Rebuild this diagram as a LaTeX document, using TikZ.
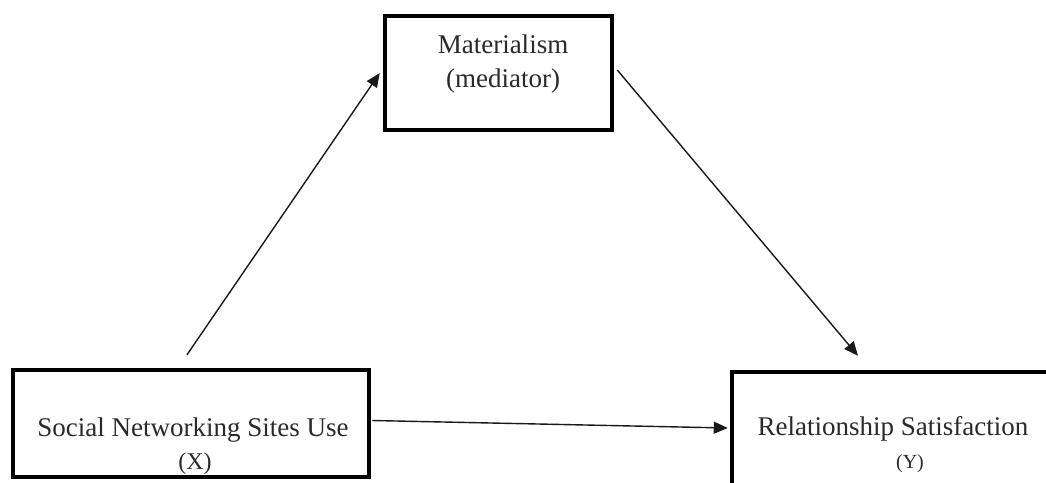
\documentclass[tikz,border=0pt]{standalone}
\usepackage{fontspec}
\setmainfont{Liberation Serif}
\usetikzlibrary{arrows.meta}
\definecolor{txt}{HTML}{2A2A2A}
\begin{document}
\begin{tikzpicture}[x=1pt,y=-1pt,
  box/.style={draw=black,line width=4.5pt,inner sep=0pt,fill=white},
  lbl/.style={anchor=base,inner sep=0pt,text=txt,font=\fontsize{27}{30}\selectfont},
  arr/.style={draw=black!90,line width=1.4pt,-{Triangle[length=14pt,width=12pt]}}]
\useasboundingbox (0,0) rectangle (1046,482);
\fill[white] (0,0) rectangle (1046,482);
% boxes
\node[box,minimum width=227pt,minimum height=114pt] (mat) at (498.5,73) {};
\node[box,minimum width=356pt,minimum height=107pt] (sns) at (191,423.5) {};
\node[box,minimum width=330pt,minimum height=140pt] (rs) at (897,442) {};
% texts
\node[lbl] (matA) at (503,53) {Materialism};
\node[lbl] (matB) at (503,87) {(mediator)};
\node[lbl] (snsA) at (193,436) {Social Networking Sites Use};
\node[lbl,font=\fontsize{24}{28}\selectfont] (snsB) at (195,469) {(X)};
\node[lbl] (rsA) at (893,435) {Relationship Satisfaction};
\node[lbl,font=\fontsize{20}{24}\selectfont] (rsB) at (910,468) {(Y)};
% connectors
\draw[arr] ([shift={(-4,-13)}]sns.north) -- ([shift={(-3,0)}]mat.west);
\draw[arr] ([shift={(3,-3)}]mat.east) -- ([shift={(-39,-14)}]rs.north);
\draw[arr] ([shift={(1,-3)}]sns.east) -- ([shift={(-2,-14)}]rs.west);
\end{tikzpicture}
\end{document}
